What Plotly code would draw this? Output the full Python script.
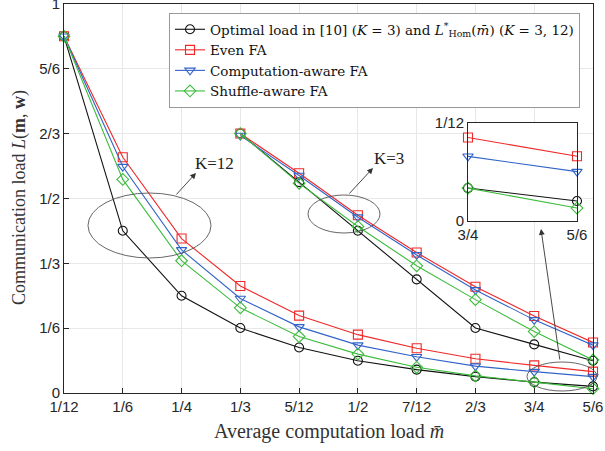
import plotly.graph_objects as go

# ---------------- data ----------------
x_k12 = [1/12, 1/6, 1/4, 1/3, 5/12, 1/2, 7/12, 2/3, 3/4, 5/6]
opt_k12 = [0.917, 0.417, 0.250, 0.167, 0.117, 0.083, 0.060, 0.042, 0.028, 0.017]
even_k12 = [0.917, 0.606, 0.397, 0.275, 0.199, 0.150, 0.115, 0.088, 0.071, 0.055]
comp_k12 = [0.917, 0.582, 0.368, 0.243, 0.170, 0.123, 0.093, 0.069, 0.055, 0.042]
shuf_k12 = [0.917, 0.549, 0.340, 0.219, 0.145, 0.100, 0.066, 0.044, 0.028, 0.011]

x_k3 = [1/3, 5/12, 1/2, 7/12, 2/3, 3/4, 5/6]
opt_k3 = [0.667, 0.542, 0.417, 0.292, 0.167, 0.125, 0.083]
even_k3 = [0.667, 0.565, 0.457, 0.361, 0.273, 0.198, 0.130]
comp_k3 = [0.662, 0.559, 0.452, 0.355, 0.265, 0.188, 0.123]
shuf_k3 = [0.667, 0.539, 0.428, 0.327, 0.240, 0.158, 0.085]

x_ticks = [1/12, 1/6, 1/4, 1/3, 5/12, 1/2, 7/12, 2/3, 3/4, 5/6]
x_ticktext = ["1/12", "1/6", "1/4", "1/3", "5/12", "1/2", "7/12", "2/3", "3/4", "5/6"]
y_ticks = [0, 1/6, 1/3, 1/2, 2/3, 5/6, 1]
y_ticktext = ["0", "1/6", "1/3", "1/2", "2/3", "5/6", "1"]

names = [
    "Optimal load in [10] (<i>K</i> = 3) and <i>L</i><sup>*</sup><sub>Hom</sub>(<i>m̄</i>) (<i>K</i> = 3, 12)",
    "Even FA",
    "Computation-aware FA",
    "Shuffle-aware FA",
]
colors = ["#111111", "#f02828", "#3264c8", "#3cbc3c"]
symbols = ["circle-open", "square-open", "triangle-down-open", "diamond-open"]
k12 = [opt_k12, even_k12, comp_k12, shuf_k12]
k3 = [opt_k3, even_k3, comp_k3, shuf_k3]

SERIF = "Liberation Serif"
LEG_SERIF = "DejaVu Serif"
SANS = "Liberation Sans"

fig = go.Figure()
for i in range(4):
    fig.add_trace(go.Scatter(
        x=x_k12, y=k12[i], mode="lines+markers", name=names[i],
        line=dict(color=colors[i], width=1.1),
        marker=dict(symbol=symbols[i], size=9, color=colors[i], line=dict(width=1.1, color=colors[i])),
        cliponaxis=False, legendrank=i,
    ))
for i in range(4):
    fig.add_trace(go.Scatter(
        x=x_k3, y=k3[i], mode="lines+markers", showlegend=False,
        line=dict(color=colors[i], width=1.1),
        marker=dict(symbol=symbols[i], size=9, color=colors[i], line=dict(width=1.1, color=colors[i])),
        cliponaxis=False,
    ))
# inset (zoom of K=12 curves at 3/4 and 5/6)
for i in range(4):
    fig.add_trace(go.Scatter(
        x=x_k12[-2:], y=k12[i][-2:], mode="lines+markers", showlegend=False,
        xaxis="x2", yaxis="y2",
        line=dict(color=colors[i], width=1.1),
        marker=dict(symbol=symbols[i], size=9, color=colors[i], line=dict(width=1.1, color=colors[i])),
        cliponaxis=False,
    ))

W, H = 605, 451
L, R, T, B = 64, 593, 4, 393  # plot box in pixels


def px(xp):
    return (xp - L) / (R - L)


def py(yp):
    return (B - yp) / (B - T)


shapes = []
for (x0, x1, y0, y1) in [(88, 211, 193, 258), (308, 380, 195, 233), (527, 597, 362, 391)]:
    shapes.append(dict(type="circle", xref="paper", yref="paper",
                       x0=px(x0), x1=px(x1), y0=py(y1), y1=py(y0),
                       line=dict(color="#555555", width=0.9), layer="above"))

annotations = []
for (tx, ty, hx, hy) in [(175, 196, 196, 173), (348, 195, 373, 168), (560, 361, 541, 229)]:
    annotations.append(dict(xref="paper", yref="paper", x=px(hx), y=py(hy),
                            ax=tx - hx, ay=ty - hy, text="", showarrow=True,
                            arrowhead=2, arrowsize=1.3, arrowwidth=0.9, arrowcolor="#333333"))
annotations.append(dict(xref="paper", yref="paper", x=px(193), y=py(163), text="K=12",
                        showarrow=False, xanchor="left", yanchor="middle",
                        font=dict(family=SERIF, size=17, color="#222222")))
annotations.append(dict(xref="paper", yref="paper", x=px(372), y=py(158), text="K=3",
                        showarrow=False, xanchor="left", yanchor="middle",
                        font=dict(family=SERIF, size=17, color="#222222")))
# axis titles
annotations.append(dict(xref="paper", yref="paper", x=px(329), y=py(431),
                        text="Average computation load <i>m̄</i>", showarrow=False,
                        xanchor="center", yanchor="middle",
                        font=dict(family=SERIF, size=20, color="#333333")))
annotations.append(dict(xref="paper", yref="paper", x=px(19), y=py(198),
                        text="Communication load <i>L</i>(<b>m</b>, <b>w</b>)", showarrow=False,
                        xanchor="center", yanchor="middle", textangle=-90,
                        font=dict(family=SERIF, size=18, color="#333333")))

ax_common = dict(showline=True, linecolor="#262626", linewidth=1, mirror=True,
                 ticks="inside", ticklen=5, tickcolor="#262626", automargin=False,
                 ticklabeloverflow="allow",
                 showgrid=True, gridcolor="#e8e8e8", gridwidth=1, zeroline=False,
                 tickfont=dict(family=SANS, size=15, color="#262626"))

fig.update_layout(
    width=W, height=H,
    margin=dict(l=L, r=W - R, t=T, b=H - B, autoexpand=False),
    paper_bgcolor="white", plot_bgcolor="white",
    showlegend=True,
    legend=dict(x=px(169), y=py(13), xanchor="left", yanchor="top",
                bgcolor="white", bordercolor="#999999", borderwidth=1,
                font=dict(family=LEG_SERIF, size=13.5, color="#111111"),
                tracegroupgap=0, itemwidth=30),
    xaxis=dict(range=[1/12, 5/6], tickvals=x_ticks, ticktext=x_ticktext, **ax_common),
    yaxis=dict(range=[0, 1], tickvals=y_ticks, ticktext=y_ticktext, **ax_common),
    xaxis2=dict(domain=[px(468), px(577)], anchor="y2", range=[3/4, 5/6],
                tickvals=[3/4, 5/6], ticktext=["3/4", "5/6"], automargin=False,
                showline=True, mirror=True, linecolor="#262626", linewidth=1,
                showgrid=False, zeroline=False, ticks="",
                tickfont=dict(family=SANS, size=15, color="#262626")),
    yaxis2=dict(domain=[py(221), py(123)], anchor="x2", range=[0, 1/12],
                tickvals=[0, 1/12], ticktext=["0", "1/12"], automargin=False,
                showline=True, mirror=True, linecolor="#262626", linewidth=1,
                showgrid=False, zeroline=False, ticks="",
                tickfont=dict(family=SANS, size=15, color="#262626")),
    shapes=shapes,
    annotations=annotations,
)

fig.write_html("out.html", config={"displayModeBar": False},
               post_script="document.body.style.margin='0';document.body.style.overflow='hidden';")
